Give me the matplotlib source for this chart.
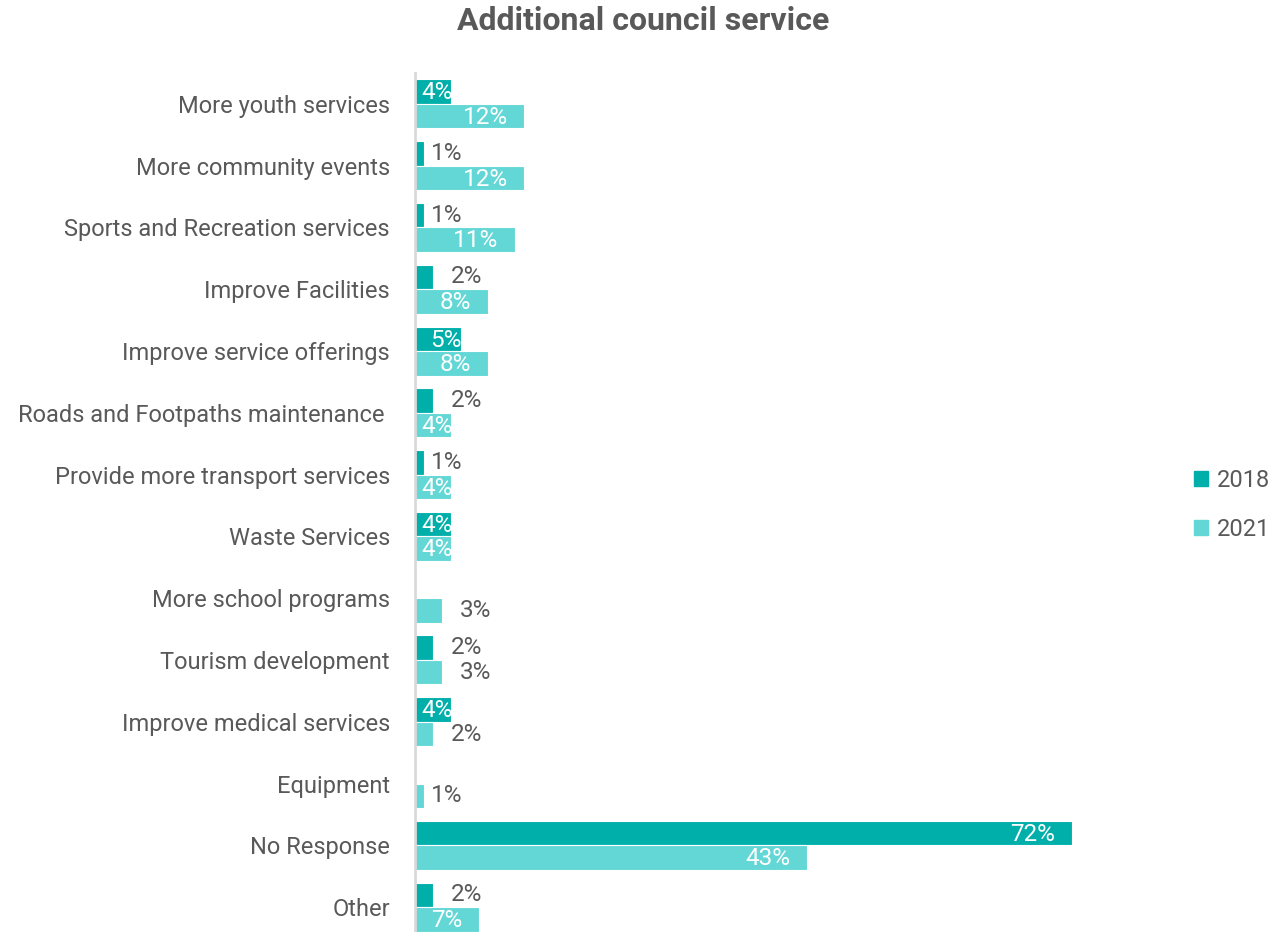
import numpy as np
import matplotlib.pyplot as plt
from matplotlib.patches import Patch

plt.rcParams['font.family'] = ['Roboto', 'DejaVu Sans']

categories = ["More youth services", "More community events", "Sports and Recreation services",
              "Improve Facilities", "Improve service offerings", "Roads and Footpaths maintenance ",
              "Provide more transport services", "Waste Services", "More school programs",
              "Tourism development", "Improve medical services", "Equipment", "No Response", "Other"]
pct_2018 = [4, 1, 1, 2, 5, 2, 1, 4, None, 2, 4, None, 72, 2]
pct_2021 = [12, 12, 11, 8, 8, 4, 4, 4, 3, 3, 2, 1, 43, 7]
series_names = ["2018", "2021"]

c2018 = "#00AFAA"
c2021 = "#63D7D5"
grey = "#595959"

fig = plt.figure(figsize=(12.86, 9.32), dpi=100)
ax = fig.add_axes([415/1286, 1 - 938/932, 730/1286, 865/932])

y = np.arange(len(categories))
h = 0.397
off = h / 2
fs_val = 17.5


def draw(vals, ypos, color):
    for yi, v in zip(ypos, vals):
        if v is None:
            continue
        ax.barh(yi, v, height=h, color=color, edgecolor="white", linewidth=0.8)
        lab = f"{v}%"
        if v >= 7:
            ax.text(v - 1.85, yi + 0.02, lab, ha="right", va="center", color="white",
                    fontsize=fs_val, fontweight=350)
        elif v >= 4:
            ax.text(v + 0.1, yi + 0.02, lab, ha="right", va="center", color="white",
                    fontsize=fs_val, fontweight=350)
        else:
            gap = 0.8 if v == 1 else 1.9
            ax.text(v + gap, yi, lab, ha="left", va="center", color=grey,
                    fontsize=fs_val, fontweight=350)


draw(pct_2018, y - off, c2018)
draw(pct_2021, y + off, c2021)

ax.set_ylim(len(categories) - 0.5, -0.5)
ax.set_xlim(0, 80)
ax.set_yticks(y)
ax.set_yticklabels(categories, fontsize=17, color=grey, fontweight=350)
ax.tick_params(axis="y", length=0, pad=18)
ax.set_xticks([])
for s in ["top", "right", "bottom"]:
    ax.spines[s].set_visible(False)
ax.spines["left"].set_color("#D9D9D9")
ax.spines["left"].set_linewidth(2)

fig.text(643/1286, 1 - 21/932, "Additional council service", ha="center", va="center",
         fontsize=23, fontweight="bold", color=grey)

handles = [Patch(color=c2018), Patch(color=c2021)]
fig.legend(handles, series_names, loc="center left", bbox_to_anchor=(1173/1286, 1 - 505/932),
           frameon=False, fontsize=17, labelcolor=grey, handlelength=0.6, handleheight=0.6,
           handletextpad=0.35, labelspacing=1.1, prop={"weight": 350, "size": 17})

fig.savefig("out.png", dpi=100)
